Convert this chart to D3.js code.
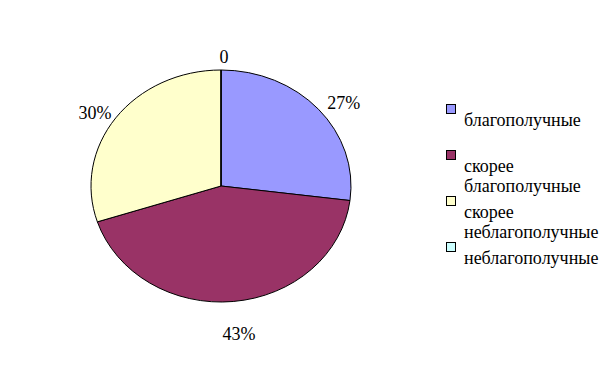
<!DOCTYPE html>
<html>
<head>
<meta charset="utf-8">
<script src="https://cdn.jsdelivr.net/npm/d3@7"></script>
</head>
<body style="margin:0">
<script>
const categories = ['благополучные', 'скорее благополучные', 'скорее неблагополучные', 'неблагополучные']
const values = [27, 43, 30, 0]
const labels = ['27%', '43%', '30%', '0']
const colors = ['#9999FF', '#993366', '#FFFFCC', '#CCFFFF']

const cx = 221
const cy = 186
const rx = 130
const ry = 116
const fs = 18

const svg = d3.select('body').append('svg')
  .attr('width', 614)
  .attr('height', 374)
  .style('font-family', '"Liberation Serif"')
  .style('font-size', fs + 'px')

// pie is drawn as a circle of radius ry and stretched sideways
const pie = d3.pie().sort(null).value(d => d)
const arcs = pie(values)
const arc = d3.arc().innerRadius(0).outerRadius(ry)

svg.append('g')
  .attr('transform', 'translate(' + cx + ',' + cy + ') scale(' + (rx / ry) + ',1)')
  .selectAll('path')
  .data(arcs)
  .enter().append('path')
  .attr('d', arc)
  .attr('fill', (d, i) => colors[i])
  .attr('stroke', '#000')
  .attr('stroke-width', 1)
  .attr('vector-effect', 'non-scaling-stroke')

// data labels outside the pie
svg.append('g').selectAll('text')
  .data(arcs)
  .enter().append('text')
  .attr('text-anchor', 'middle')
  .text((d, i) => labels[i])
  .each(function (d) {
    const a = (d.startAngle + d.endAngle) / 2
    const bw = this.getComputedTextLength()
    const x = cx + Math.sin(a) * (rx * 1.1 + bw / 2) + 3
    const y = cy - Math.cos(a) * (ry * 1.1 + fs * 0.4) + 6 + Math.max(0, -Math.cos(a)) * 8
    d3.select(this).attr('x', x).attr('y', y + fs * 0.33)
  })

// legend: marker on top, wrapped name below it, text cut at the right edge
const legend = svg.append('svg')
  .attr('x', 440).attr('y', 80)
  .attr('width', 164).attr('height', 220)
const itemH = 46
const lineH = 19.5

categories.forEach((c, i) => {
  const y0 = 24 + i * itemH
  legend.append('rect')
    .attr('x', 6.5)
    .attr('y', y0 + 0.5)
    .attr('width', 9)
    .attr('height', 9)
    .attr('fill', colors[i])
    .attr('stroke', '#000')
    .attr('stroke-width', 1)

  c.split(' ').forEach((line, j) => {
    legend.append('text')
      .attr('x', 24)
      .attr('y', y0 + 22 + j * lineH)
      .text(line)
  })
})
</script>
</body>
</html>
